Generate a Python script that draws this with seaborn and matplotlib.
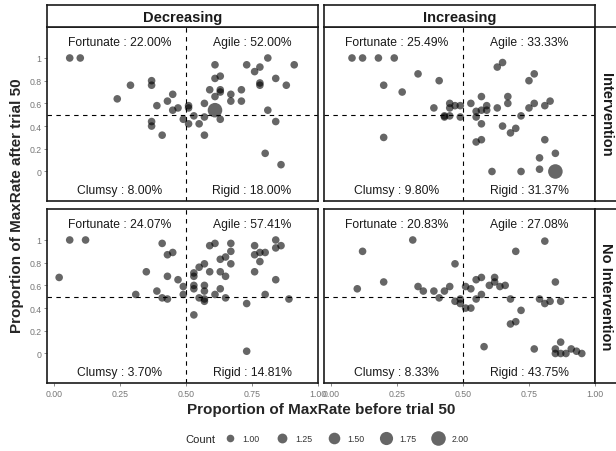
import pandas as pd
import seaborn as sns
import matplotlib.pyplot as plt
from matplotlib.lines import Line2D

# Decreasing / Intervention
dec_int_x = [0.06, 0.10, 0.24, 0.29, 0.37, 0.37, 0.37, 0.37, 0.41, 0.39,
             0.43, 0.45, 0.45, 0.47, 0.49, 0.51, 0.51, 0.51, 0.53, 0.55,
             0.57, 0.57, 0.57, 0.59, 0.61, 0.61, 0.61, 0.61, 0.63, 0.63,
             0.63, 0.63, 0.67, 0.67, 0.71, 0.71, 0.73, 0.76, 0.78, 0.78,
             0.78, 0.81, 0.81, 0.84, 0.84, 0.88, 0.91, 0.80, 0.86]
dec_int_y = [1.00, 1.00, 0.64, 0.76, 0.80, 0.76, 0.44, 0.40, 0.32, 0.58,
             0.62, 0.68, 0.54, 0.56, 0.46, 0.58, 0.56, 0.42, 0.49, 0.42,
             0.32, 0.48, 0.60, 0.72, 0.94, 0.82, 0.66, 0.54, 0.84, 0.72,
             0.70, 0.46, 0.68, 0.62, 0.72, 0.62, 0.94, 0.88, 0.92, 0.78,
             0.76, 1.00, 0.54, 0.82, 0.44, 0.76, 0.94, 0.16, 0.06]
dec_int_n = [1] * 27 + [2] + [1] * 21

# Increasing / Intervention
inc_int_x = [0.08, 0.12, 0.18, 0.24, 0.20, 0.27, 0.33, 0.41, 0.20, 0.39,
             0.43, 0.43, 0.45, 0.45, 0.45, 0.47, 0.49, 0.49, 0.53, 0.55,
             0.55, 0.57, 0.57, 0.57, 0.55, 0.57, 0.59, 0.59, 0.63, 0.65,
             0.63, 0.67, 0.67, 0.65, 0.68, 0.70, 0.72, 0.75, 0.75, 0.77,
             0.77, 0.81, 0.83, 0.81, 0.85, 0.79, 0.79, 0.72, 0.61, 0.85]
inc_int_y = [1.00, 1.00, 1.00, 1.00, 0.76, 0.70, 0.86, 0.80, 0.30, 0.56,
             0.49, 0.48, 0.60, 0.56, 0.49, 0.58, 0.58, 0.48, 0.60, 0.53,
             0.48, 0.66, 0.54, 0.42, 0.26, 0.28, 0.58, 0.54, 0.92, 0.96,
             0.56, 0.66, 0.60, 0.40, 0.34, 0.38, 0.49, 0.56, 0.80, 0.86,
             0.60, 0.58, 0.62, 0.28, 0.16, 0.12, 0.02, 0.00, 0.00, 0.00]
inc_int_n = [1] * 49 + [2]

# Decreasing / No Intervention
dec_noint_x = [0.06, 0.12, 0.02, 0.31, 0.35, 0.39, 0.41, 0.43, 0.45, 0.43,
               0.41, 0.43, 0.47, 0.49, 0.49, 0.53, 0.53, 0.53, 0.53, 0.53,
               0.55, 0.55, 0.57, 0.57, 0.57, 0.57, 0.57, 0.59, 0.59, 0.61,
               0.61, 0.63, 0.63, 0.63, 0.65, 0.65, 0.65, 0.67, 0.67, 0.67,
               0.73, 0.73, 0.76, 0.76, 0.76, 0.78, 0.78, 0.80, 0.80, 0.84,
               0.84, 0.86, 0.84, 0.89]
dec_noint_y = [1.00, 1.00, 0.67, 0.52, 0.72, 0.55, 0.97, 0.87, 0.89, 0.68,
               0.49, 0.48, 0.65, 0.59, 0.52, 0.71, 0.68, 0.60, 0.57, 0.34,
               0.76, 0.49, 0.79, 0.60, 0.55, 0.48, 0.46, 0.72, 0.95, 0.97,
               0.52, 0.83, 0.72, 0.57, 0.85, 0.68, 0.49, 0.97, 0.90, 0.79,
               0.44, 0.02, 0.95, 0.87, 0.72, 0.89, 0.81, 0.89, 0.52, 1.00,
               0.93, 0.95, 0.65, 0.48]
dec_noint_n = [1] * 54

# Increasing / No Intervention
inc_noint_x = [0.12, 0.10, 0.20, 0.31, 0.33, 0.35, 0.39, 0.41, 0.43, 0.45,
               0.47, 0.47, 0.49, 0.49, 0.51, 0.51, 0.53, 0.53, 0.55, 0.55,
               0.57, 0.57, 0.58, 0.60, 0.62, 0.62, 0.64, 0.66, 0.68, 0.70,
               0.72, 0.68, 0.70, 0.77, 0.79, 0.81, 0.81, 0.83, 0.85, 0.87,
               0.85, 0.85, 0.87, 0.87, 0.89, 0.91, 0.93, 0.95]
inc_noint_y = [0.90, 0.57, 0.63, 1.00, 0.59, 0.55, 0.55, 0.49, 0.55, 0.59,
               0.79, 0.46, 0.48, 0.44, 0.59, 0.40, 0.57, 0.40, 0.65, 0.48,
               0.67, 0.52, 0.06, 0.60, 0.67, 0.63, 0.59, 0.60, 0.48, 0.90,
               0.38, 0.26, 0.28, 0.04, 0.48, 0.99, 0.44, 0.46, 0.63, 0.46,
               0.04, 0.00, 0.10, 0.00, 0.00, 0.04, 0.02, 0.00]
inc_noint_n = [1] * 48

trends = ["Decreasing", "Increasing"]
groups = ["Intervention", "No Intervention"]

# quadrant labels: Fortunate, Agile, Clumsy, Rigid
quad_names = ["Fortunate", "Agile", "Clumsy", "Rigid"]
quad_pct = {
    ("Decreasing", "Intervention"): ["22.00%", "52.00%", "8.00%", "18.00%"],
    ("Increasing", "Intervention"): ["25.49%", "33.33%", "9.80%", "31.37%"],
    ("Decreasing", "No Intervention"): ["24.07%", "57.41%", "3.70%", "14.81%"],
    ("Increasing", "No Intervention"): ["20.83%", "27.08%", "8.33%", "43.75%"],
}

legend_counts = [1.00, 1.25, 1.50, 1.75, 2.00]
x_ticks = [0, 0.25, 0.5, 0.75, 1]
x_ticklabels = ["0.00", "0.25", "0.50", "0.75", "1.00"]
y_ticks = [0, 0.2, 0.4, 0.6, 0.8, 1]
y_ticklabels = ["0", "0.2", "0.4", "0.6", "0.8", "1"]

frames = []
for tr, gr, xs, ys, ns in [
    ("Decreasing", "Intervention", dec_int_x, dec_int_y, dec_int_n),
    ("Increasing", "Intervention", inc_int_x, inc_int_y, inc_int_n),
    ("Decreasing", "No Intervention", dec_noint_x, dec_noint_y, dec_noint_n),
    ("Increasing", "No Intervention", inc_noint_x, inc_noint_y, inc_noint_n),
]:
    frames.append(pd.DataFrame({"before": xs, "after": ys, "Count": ns,
                                "Trend": tr, "Group": gr}))
df = pd.concat(frames, ignore_index=True)

sns.set_style("white")
plt.rcParams["font.family"] = ["Liberation Sans", "DejaVu Sans"]

W, H = 616, 452
fig = plt.figure(figsize=(W / 100, H / 100), dpi=100)

def fx(px):
    return px / W

def fy(py):
    return 1 - py / H

col_left = [47, 324]
panel_w = 271
row_top = [28, 210]
panel_h = 174
size_range = (30, 110)
pt_color = "black"
alpha = 0.6

for r, gr in enumerate(groups):
    for c, tr in enumerate(trends):
        ax = fig.add_axes([fx(col_left[c]), fy(row_top[r] + panel_h),
                           fx(panel_w), panel_h / H])
        sub = df[(df.Trend == tr) & (df.Group == gr)]
        sns.scatterplot(data=sub, x="before", y="after", size="Count",
                        sizes=size_range, size_norm=(1, 2), color=pt_color,
                        alpha=alpha, linewidth=0, legend=False, ax=ax)
        ax.axvline(0.5, color="black", ls=(0, (4, 4)), lw=0.8, zorder=0)
        ax.axhline(0.5, color="black", ls=(0, (4, 4)), lw=0.8, zorder=0)
        ax.set_xlim(-0.026, 1.0)
        ax.set_ylim(-0.26, 1.273)
        ax.set_xlabel("")
        ax.set_ylabel("")
        pct = quad_pct[(tr, gr)]
        for name, p, qx, qy in zip(quad_names, pct,
                                   [0.25, 0.75, 0.25, 0.75],
                                   [1.145, 1.145, -0.16, -0.16]):
            ax.text(qx, qy, f"{name} : {p}", ha="center", va="center",
                    fontsize=8.7, color="#1a1a1a")
        ax.set_xticks(x_ticks)
        ax.set_yticks(y_ticks)
        if r == 1:
            ax.set_xticklabels(x_ticklabels)
        else:
            ax.set_xticklabels([])
        if c == 0:
            ax.set_yticklabels(y_ticklabels)
        else:
            ax.set_yticklabels([])
        ax.tick_params(axis="both", labelsize=6.3, labelcolor="#777777",
                       color="#777777", width=0.6, pad=1.5)
        ax.tick_params(axis="x", bottom=(r == 1), length=2.5 if r == 1 else 0)
        ax.tick_params(axis="y", left=(c == 0), length=2.5 if c == 0 else 0)
        for s in ax.spines.values():
            s.set_color("#1a1a1a")
            s.set_linewidth(1.2)

        # top strips
        if r == 0:
            sax = fig.add_axes([fx(col_left[c]), fy(row_top[0]), fx(panel_w), 22 / H])
            sax.set_xticks([])
            sax.set_yticks([])
            for s in sax.spines.values():
                s.set_color("#1a1a1a")
                s.set_linewidth(1.2)
            sax.text(0.5, 0.45, tr, ha="center", va="center", fontsize=10.5,
                     fontweight="bold", color="#1a1a1a", transform=sax.transAxes)
        # right strips
        if c == 1:
            sax = fig.add_axes([fx(col_left[1] + panel_w), fy(row_top[r] + panel_h),
                                fx(22), panel_h / H])
            sax.set_xticks([])
            sax.set_yticks([])
            for s in sax.spines.values():
                s.set_color("#1a1a1a")
                s.set_linewidth(1.2)
            sax.text(0.5, 0.5, gr, ha="center", va="center", fontsize=10.5,
                     fontweight="bold", rotation=-90, color="#1a1a1a",
                     transform=sax.transAxes)

fig.text(fx(321), fy(410), "Proportion of MaxRate before trial 50",
         ha="center", va="center", fontsize=11, fontweight="bold")
fig.text(fx(17), fy(206), "Proportion of MaxRate after trial 50",
         ha="center", va="center", rotation=90, fontsize=11, fontweight="bold")

# size legend
handles = []
for cnt in legend_counts:
    s = size_range[0] + (cnt - 1) * (size_range[1] - size_range[0])
    handles.append(Line2D([], [], marker="o", ls="", markersize=s ** 0.5,
                          markerfacecolor=pt_color, markeredgewidth=0,
                          alpha=alpha))
fig.text(fx(200), fy(440), "Count", ha="center", va="center", fontsize=8)
fig.legend(handles, [f"{c:.2f}" for c in legend_counts], ncol=5,
           loc="center left", bbox_to_anchor=(fx(220), fy(440)), frameon=False,
           fontsize=6.3, handletextpad=0.9, columnspacing=1.9,
           handlelength=1.2, labelcolor="#333333", borderpad=0)

fig.savefig("out.png", dpi=100)
